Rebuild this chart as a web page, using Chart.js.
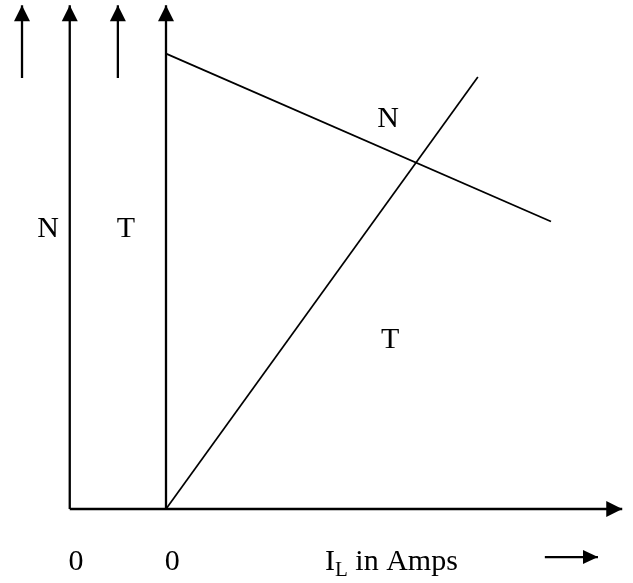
<!DOCTYPE html>
<html lang="en">
<head>
    <meta charset="UTF-8">
    <title>N and T against load current</title>
    <script src="https://cdn.jsdelivr.net/npm/chart.js"></script>
    <style>
        body { margin: 0; background: #fff; }
        .wrap { position: relative; width: 633px; height: 583px; }
    </style>
</head>
<body>
    <div class="wrap"><canvas id="diagram"></canvas></div>
    <script>
        // speed N and torque T against load current I_L (arbitrary units)
        const nLineX = [0, 10];
        const nLineY = [9.9, 6.25];
        const tLineX = [0, 8.1];
        const tLineY = [0, 9.39];

        // axes and the loose arrows beside them
        const nAxisX = [-2.5, -2.5];
        const nAxisY = [0, 10.95];
        const tAxisX = [0, 0];
        const tAxisY = [0, 10.95];
        const iAxisX = [-2.5, 11.85];
        const iAxisY = [0, 0];
        const nArrowX = [-3.74, -3.74];
        const tArrowX = [-1.25, -1.25];
        const sideArrowY = [9.37, 10.95];
        const iArrowX = [9.84, 11.22];
        const iArrowY = [-1.045, -1.045];

        // text labels (y is the baseline)
        const labelText = ['N', 'T', 'N', 'T', '0', '0'];
        const labelX = [-3.06, -1.04, 5.77, 5.82, -2.34, 0.16];
        const labelY = [5.913, 5.913, 8.304, 3.5, -1.326, -1.326];
        const axisTitle = { main: 'I', sub: 'L', rest: ' in Amps', x: 4.13, y: -1.326 };

        const pts = (xs, ys) => xs.map((x, i) => ({ x: x, y: ys[i] }));
        const seg = (xs, ys, width, arrow, head) => ({
            data: pts(xs, ys),
            showLine: true,
            borderColor: '#000',
            borderWidth: width,
            pointRadius: 0,
            pointHoverRadius: 0,
            tension: 0,
            arrow: arrow,
            head: head
        });

        const FONT = '"Liberation Serif", "Times New Roman", serif';

        const arrowPlugin = {
            id: 'arrowHeads',
            afterDatasetsDraw(chart) {
                const ctx = chart.ctx;
                chart.data.datasets.forEach((ds, i) => {
                    if (!ds.arrow) return;
                    const pts = chart.getDatasetMeta(i).data;
                    const a = pts[pts.length - 2], b = pts[pts.length - 1];
                    const ang = Math.atan2(b.y - a.y, b.x - a.x);
                    const len = ds.head[0], half = ds.head[1];
                    ctx.save();
                    ctx.translate(b.x, b.y);
                    ctx.rotate(ang);
                    ctx.beginPath();
                    ctx.moveTo(0, 0);
                    ctx.lineTo(-len, -half);
                    ctx.lineTo(-len, half);
                    ctx.closePath();
                    ctx.fillStyle = '#000';
                    ctx.fill();
                    ctx.restore();
                });
            }
        };

        const labelPlugin = {
            id: 'labels',
            afterDraw(chart) {
                const ctx = chart.ctx;
                const xs = chart.scales.x, ys = chart.scales.y;
                ctx.save();
                ctx.fillStyle = '#000';
                ctx.textBaseline = 'alphabetic';
                ctx.font = '30px ' + FONT;
                ctx.textAlign = 'center';
                labelText.forEach((t, i) => {
                    ctx.fillText(t, xs.getPixelForValue(labelX[i]), ys.getPixelForValue(labelY[i]));
                });
                // I_L in Amps, with the subscript
                ctx.textAlign = 'left';
                let px = xs.getPixelForValue(axisTitle.x);
                const py = ys.getPixelForValue(axisTitle.y);
                ctx.fillText(axisTitle.main, px, py);
                px += ctx.measureText(axisTitle.main).width;
                ctx.font = '21px ' + FONT;
                ctx.fillText(axisTitle.sub, px, py + 6);
                px += ctx.measureText(axisTitle.sub).width;
                ctx.font = '30px ' + FONT;
                ctx.fillText(axisTitle.rest, px, py);
                ctx.restore();
            }
        };

        new Chart(document.getElementById('diagram'), {
            type: 'scatter',
            data: {
                datasets: [
                    seg(nAxisX, nAxisY, 2.3, true, [16, 8]),
                    seg(tAxisX, tAxisY, 2.3, true, [16, 8]),
                    seg(iAxisX, iAxisY, 2.3, true, [16, 8]),
                    seg(nArrowX, sideArrowY, 2.3, true, [16, 8]),
                    seg(tArrowX, sideArrowY, 2.3, true, [16, 8]),
                    seg(iArrowX, iArrowY, 2.3, true, [15, 7]),
                    seg(nLineX, nLineY, 1.7, false),
                    seg(tLineX, tLineY, 1.7, false)
                ]
            },
            options: {
                responsive: true,
                maintainAspectRatio: false,
                animation: false,
                layout: { padding: 0 },
                plugins: { legend: { display: false }, tooltip: { enabled: false } },
                scales: {
                    x: { type: 'linear', display: false, min: -4.3117, max: 12.1299 },
                    y: { type: 'linear', display: false, min: -1.6087, max: 11.0652 }
                }
            },
            plugins: [arrowPlugin, labelPlugin]
        });
    </script>
</body>
</html>
